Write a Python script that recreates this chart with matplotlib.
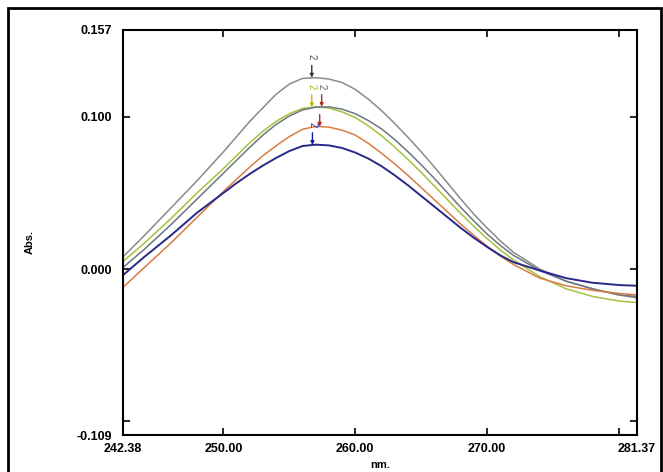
import matplotlib
matplotlib.use("Agg")
import matplotlib.pyplot as plt
from matplotlib.patches import Rectangle

plt.rcParams['font.family'] = ['Liberation Sans', 'DejaVu Sans']

# wavelength grid (nm) and absorbance
wl = [242.38, 244, 246, 248,
      250, 251, 252, 253, 254, 255, 256, 257, 258, 259, 260, 261,
      262, 263, 264, 265, 266, 267, 268, 269, 270, 271, 272,
      274, 276, 278, 280, 281.37]

abs_gray = [0.008, 0.022, 0.040, 0.058,
            0.077, 0.087, 0.097, 0.106, 0.1148, 0.1215, 0.1252, 0.1257, 0.1248,
            0.1225, 0.118, 0.1115, 0.104, 0.0955, 0.0865, 0.077, 0.067, 0.0565,
            0.046, 0.036, 0.027, 0.0185, 0.011,
            0.000, -0.008, -0.013, -0.017, -0.019]
abs_green = [0.005, 0.017, 0.033, 0.050,
             0.066, 0.0745, 0.083, 0.0905, 0.097, 0.102, 0.1055, 0.1065, 0.1058,
             0.1032, 0.0995, 0.094, 0.0875, 0.080, 0.072, 0.0635, 0.0545, 0.0455,
             0.0365, 0.028, 0.020, 0.0125, 0.006,
             -0.005, -0.013, -0.018, -0.021, -0.022]
abs_dgray = [0.001, 0.013, 0.029, 0.046,
             0.063, 0.0715, 0.080, 0.088, 0.095, 0.1005, 0.1045, 0.1063, 0.1065,
             0.105, 0.102, 0.0975, 0.092, 0.085, 0.077, 0.0685, 0.0595, 0.050,
             0.0405, 0.0315, 0.023, 0.0155, 0.009,
             -0.001, -0.008, -0.013, -0.017, -0.018]
abs_orange = [-0.012, 0.001, 0.017, 0.034,
              0.051, 0.059, 0.067, 0.0745, 0.081, 0.087, 0.0918, 0.0937, 0.0932,
              0.0912, 0.088, 0.0825, 0.076, 0.069, 0.0615, 0.0535, 0.0455, 0.0375,
              0.0295, 0.022, 0.015, 0.0085, 0.003,
              -0.006, -0.011, -0.014, -0.016, -0.017]
abs_blue = [-0.004, 0.008, 0.022, 0.037,
            0.050, 0.0565, 0.0625, 0.068, 0.073, 0.0775, 0.0808, 0.0817, 0.0812,
            0.0795, 0.0765, 0.0725, 0.0675, 0.0615, 0.055, 0.048, 0.041, 0.034,
            0.027, 0.0205, 0.0145, 0.009, 0.0045,
            -0.001, -0.006, -0.009, -0.0105, -0.011]

# peak pick markers: wavelength, absorbance at peak, arrow colour, label colour
pk_wl = [256.7, 256.7, 257.45, 257.3, 256.75]
pk_abs = [0.1257, 0.1062, 0.1065, 0.0935, 0.0815]
pk_arrow = ['#333333', '#c8b400', '#b03020', '#c02020', '#1020a0']
pk_text = ['#555555', '#a8b800', '#666666', None, '#2030b0']

xticks = [242.38, 250, 260, 270, 280, 281.37]
xlabels = ['242.38', '250.00', '260.00', '270.00', '', '281.37']
yticks = [-0.109, -0.1, 0.0, 0.1, 0.157]
ylabels = ['-0.109', '', '0.000', '0.100', '0.157']

fig = plt.figure(figsize=(6.63, 4.72), dpi=100)
ax = fig.add_axes([123/663, 1 - 435/472, (637-123)/663, (435-30)/472])

ax.plot(wl, abs_gray, color='#8a8a8a', lw=1.1)
ax.plot(wl, abs_green, color='#a4c23c', lw=1.1)
ax.plot(wl, abs_dgray, color='#6c7680', lw=1.1)
ax.plot(wl, abs_orange, color='#d87c44', lw=1.1)
ax.plot(wl, abs_blue, color='#28288a', lw=1.4)

for x, y, ca, ct in zip(pk_wl, pk_abs, pk_arrow, pk_text):
    ax.annotate('', xy=(x, y), xytext=(x, y + 0.008),
                arrowprops=dict(arrowstyle='-|>', color=ca, lw=1.0,
                                mutation_scale=5, shrinkA=0, shrinkB=0))
    if ct is not None:
        ax.text(x, y + 0.0135, '2', color=ct, fontsize=7, rotation=-90,
                ha='center', va='center')

ax.set_xlim(242.38, 281.37)
ax.set_ylim(-0.109, 0.157)
ax.set_xticks(xticks)
ax.set_xticklabels(xlabels)
ax.set_yticks(yticks)
ax.set_yticklabels(ylabels)
ax.tick_params(direction='in', length=5, width=1.2, top=True, right=True,
               labelsize=9)
ax.tick_params(axis='y', pad=8)
ax.tick_params(axis='x', pad=6)
for lab in ax.get_xticklabels() + ax.get_yticklabels():
    lab.set_fontweight('bold')
for s in ax.spines.values():
    s.set_linewidth(1.5)

ax.set_xlabel('nm.', fontsize=8, fontweight='bold', labelpad=3)
fig.text(30/663, 1 - 242/472, 'Abs.', rotation=90, fontsize=8,
         fontweight='bold', ha='center', va='center')

# outer frame
fig.patches.append(Rectangle((8/663, -0.05), 653/663, 1 - 8/472 + 0.05,
                             transform=fig.transFigure, fill=False,
                             edgecolor='black', lw=2))

fig.savefig('out.png', dpi=100)
